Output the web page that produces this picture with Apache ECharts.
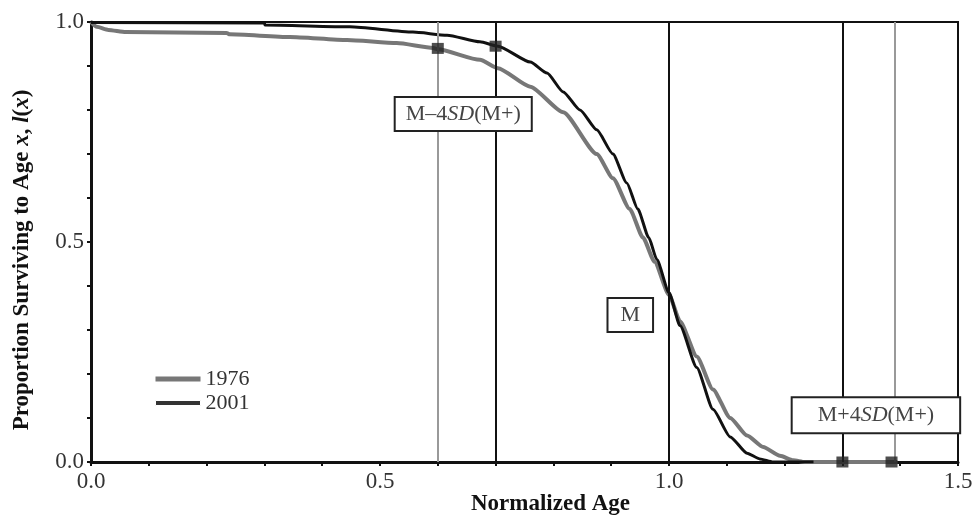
<!DOCTYPE html>
<html>
<head>
<meta charset="utf-8">
<script src="https://cdn.jsdelivr.net/npm/echarts@6/dist/echarts.min.js"></script>
<style>
  html, body { margin: 0; padding: 0; background: #fff; }
  #chart { width: 973px; height: 517px; }
</style>
</head>
<body>
<div id="chart"></div>
<script>
// survival curves, l(x) vs normalized age
const age1976 = [0, 0.01, 0.03, 0.06, 0.235, 0.24, 0.344, 0.443, 0.529, 0.592, 0.6, 0.673, 0.704, 0.76, 0.817, 0.875, 0.903, 0.932, 0.955, 0.975, 1.0, 1.019, 1.048, 1.076, 1.106, 1.135, 1.163, 1.192, 1.215, 1.235, 1.395]
const surv1976 = [1.0, 0.989, 0.982, 0.977, 0.975, 0.972, 0.966, 0.959, 0.952, 0.941, 0.938, 0.914, 0.895, 0.853, 0.795, 0.70, 0.645, 0.575, 0.51, 0.455, 0.38, 0.32, 0.24, 0.165, 0.10, 0.06, 0.034, 0.014, 0.004, 0, 0]

const age2001 = [0, 0.3, 0.301, 0.448, 0.557, 0.616, 0.673, 0.704, 0.76, 0.789, 0.817, 0.846, 0.875, 0.903, 0.927, 0.946, 0.965, 0.979, 1.0, 1.019, 1.048, 1.076, 1.106, 1.135, 1.157, 1.18, 1.25]
const surv2001 = [0.999, 0.998, 0.993, 0.989, 0.977, 0.970, 0.955, 0.945, 0.909, 0.884, 0.841, 0.80, 0.755, 0.70, 0.634, 0.575, 0.51, 0.46, 0.385, 0.31, 0.215, 0.12, 0.057, 0.02, 0.007, 0, 0]

// reference lines: M-4SD(M+) for 1976 / 2001, M, M+4SD(M+) for 2001 / 1976
const refX = [0.6, 0.7, 1.0, 1.3, 1.385]
const refGray = [true, false, false, false, true]

// square markers where the reference lines meet the curves
const markX = [0.6, 0.7, 1.3, 1.385]
const markY = [0.94, 0.945, 0, 0]

// boxed labels: [x, y, text]
const boxLabels = [
  [0.644, 0.791, '{n|M–4}{i|SD}{n|(M+)}'],
  [0.933, 0.334, '{n|M}'],
  [1.358, 0.106, '{n|M+4}{i|SD}{n|(M+)}']
]
const boxPad = [[5, 10], [5, 12], [6, 25]]

const seriesNames = ['1976', '2001']

const serif = 'Liberation Serif'
const chart = echarts.init(document.getElementById('chart'))

const tickFmt = (v) => Math.abs(v * 2 - Math.round(v * 2)) < 1e-6 ? v.toFixed(1) : ''

const option = {
  animation: false,
  grid: {
    left: 91, right: 15, top: 22, bottom: 55,
    outerBoundsMode: 'none', containLabel: false,
    show: true, borderColor: '#111', borderWidth: 2
  },
  legend: {
    orient: 'vertical',
    left: 150, top: 363,
    itemWidth: 45, itemHeight: 5, itemGap: 2,
    textStyle: { fontFamily: serif, fontSize: 22, color: '#333' },
    data: [
      { name: seriesNames[0], icon: 'rect', itemStyle: { color: '#777', borderWidth: 0 } },
      { name: seriesNames[1], icon: 'rect', itemStyle: { color: '#333', borderColor: '#fff', borderWidth: 1 } }
    ]
  },
  xAxis: {
    type: 'value', min: 0, max: 1.5, interval: 0.1,
    name: 'Normalized Age', nameLocation: 'middle', nameGap: 31, nameMoveOverlap: false,
    nameTextStyle: { fontFamily: serif, fontSize: 23, fontWeight: 'bold', color: '#111', padding: [0, 0, 0, 52] },
    axisLine: { lineStyle: { color: '#111', width: 3 } },
    axisTick: { show: true, length: 4, lineStyle: { color: '#111', width: 2 } },
    axisLabel: { formatter: tickFmt, fontFamily: serif, fontSize: 23, color: '#333', margin: 8, showMinLabel: true, showMaxLabel: true },
    splitLine: { show: false }
  },
  yAxis: {
    type: 'value', min: 0, max: 1, interval: 0.1,
    name: 'Proportion Surviving to Age {i|x}, {i|l}({i|x})',
    nameLocation: 'middle', nameGap: 57, nameRotate: 90, nameMoveOverlap: false,
    nameTextStyle: {
      fontFamily: serif, fontSize: 23, fontWeight: 'bold', color: '#111', padding: [0, 36, 0, 0],
      rich: { i: { fontFamily: serif, fontSize: 23, fontWeight: 'bold', fontStyle: 'italic', color: '#111' } }
    },
    axisLine: { lineStyle: { color: '#111', width: 3 } },
    axisTick: { show: true, length: 4, lineStyle: { color: '#111', width: 2 } },
    axisLabel: { formatter: tickFmt, fontFamily: serif, fontSize: 23, color: '#333', margin: 7 },
    splitLine: { show: false }
  },
  series: [
    {
      name: 'refs', type: 'line', data: [], z: 1, silent: true,
      markLine: {
        silent: true, symbol: ['none', 'none'], label: { show: false },
        data: refX.map((x, i) => ({
          xAxis: x,
          lineStyle: { type: 'solid', color: refGray[i] ? '#999' : '#111', width: 2 }
        }))
      },
      markPoint: {
        symbol: 'rect', symbolSize: 1, itemStyle: { color: 'rgba(0,0,0,0)' },
        data: boxLabels.map((b, i) => ({
          coord: [b[0], b[1]],
          label: {
            show: true, position: 'inside', formatter: b[2],
            backgroundColor: '#fff', borderColor: '#222', borderWidth: 2,
            padding: boxPad[i],
            rich: {
              n: { fontFamily: serif, fontSize: 22, color: '#444' },
              i: { fontFamily: serif, fontSize: 22, fontStyle: 'italic', color: '#444' }
            }
          }
        }))
      }
    },
    {
      name: seriesNames[0], type: 'line', z: 3, symbol: 'none', smooth: 0.2, smoothMonotone: 'x',
      data: age1976.map((x, i) => [x, surv1976[i]]),
      lineStyle: { color: '#777', width: 4 }, itemStyle: { color: '#777' }
    },
    {
      name: seriesNames[1], type: 'line', z: 4, symbol: 'none', smooth: 0.2, smoothMonotone: 'x',
      data: age2001.map((x, i) => [x, surv2001[i]]),
      lineStyle: { color: '#111', width: 3 }, itemStyle: { color: '#111' }
    },
    {
      name: 'marks', type: 'scatter', z: 5, symbol: 'rect', symbolSize: [12, 11],
      data: markX.map((x, i) => [x, markY[i]]),
      itemStyle: { color: '#222' }
    }
  ]
}

chart.setOption(option)
window.addEventListener('resize', () => chart.resize())
</script>
</body>
</html>
